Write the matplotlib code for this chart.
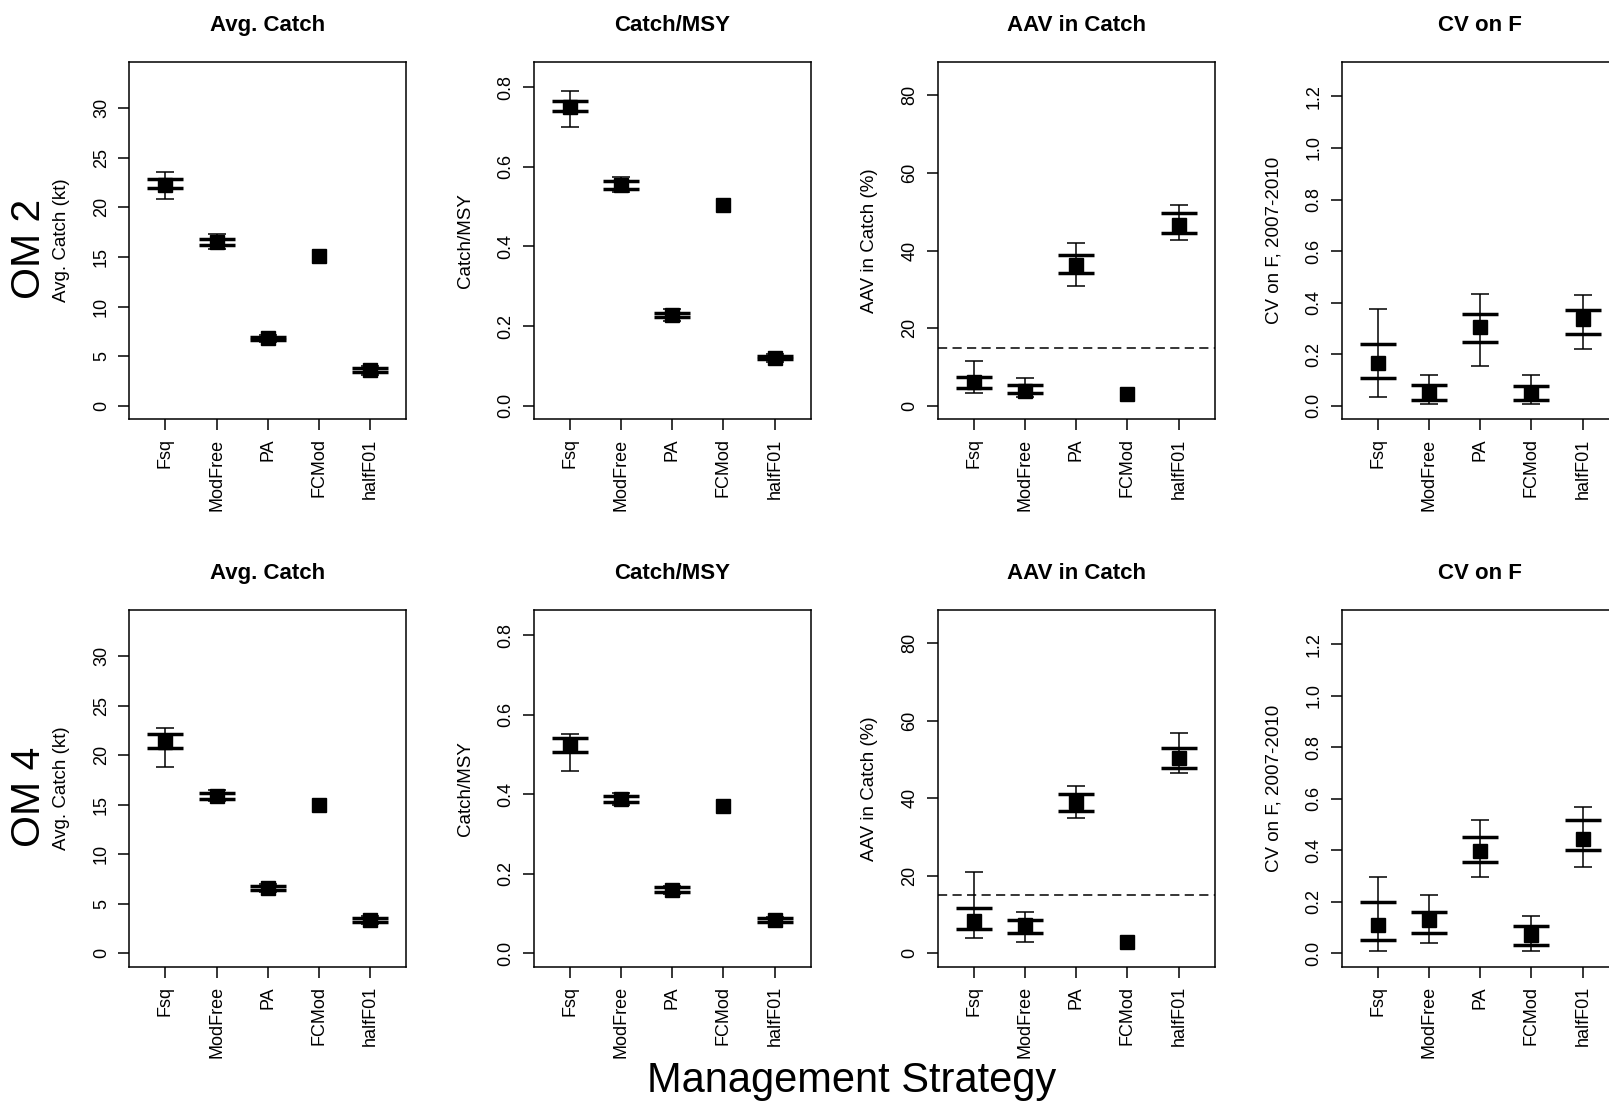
import numpy as np
import matplotlib.pyplot as plt

plt.rcParams["font.family"] = ["Liberation Sans", "DejaVu Sans"]

nan = np.nan
strategies = ["Fsq", "ModFree", "PA", "FCMod", "halfF01"]

# OM 2 -- median, inner band (thick bars), outer band (whiskers)
om2_catch_med = [22.3, 16.5, 6.8, 15.1, 3.6]
om2_catch_in_lo = [22.0, 16.2, 6.65, nan, 3.4]
om2_catch_in_hi = [22.9, 16.8, 6.95, nan, 3.8]
om2_catch_out_lo = [20.8, 15.8, 6.45, nan, 3.1]
om2_catch_out_hi = [23.6, 17.3, 7.15, nan, 4.0]

om2_msy_med = [0.750, 0.555, 0.228, 0.503, 0.121]
om2_msy_in_lo = [0.740, 0.545, 0.222, nan, 0.117]
om2_msy_in_hi = [0.765, 0.565, 0.234, nan, 0.125]
om2_msy_out_lo = [0.701, 0.538, 0.214, nan, 0.111]
om2_msy_out_hi = [0.791, 0.575, 0.243, nan, 0.131]

om2_aav_med = [6.0, 3.8, 36.2, 3.0, 46.6]
om2_aav_in_lo = [4.5, 3.2, 34.3, nan, 44.5]
om2_aav_in_hi = [7.35, 5.4, 38.9, nan, 49.6]
om2_aav_out_lo = [3.2, 2.3, 30.9, nan, 42.8]
om2_aav_out_hi = [11.6, 7.2, 41.9, nan, 51.8]

om2_cv_med = [0.165, 0.051, 0.305, 0.051, 0.337]
om2_cv_in_lo = [0.108, 0.021, 0.248, 0.021, 0.277]
om2_cv_in_hi = [0.241, 0.081, 0.357, 0.075, 0.370]
om2_cv_out_lo = [0.035, 0.008, 0.155, 0.008, 0.221]
om2_cv_out_hi = [0.377, 0.121, 0.434, 0.121, 0.430]

# OM 4
om4_catch_med = [21.3, 15.9, 6.6, 15.0, 3.4]
om4_catch_in_lo = [20.7, 15.6, 6.4, nan, 3.2]
om4_catch_in_hi = [22.1, 16.2, 6.8, nan, 3.6]
om4_catch_out_lo = [18.8, 15.4, 6.2, nan, 3.0]
om4_catch_out_hi = [22.7, 16.5, 7.0, nan, 3.8]

om4_msy_med = [0.523, 0.387, 0.159, 0.370, 0.083]
om4_msy_in_lo = [0.506, 0.380, 0.155, nan, 0.078]
om4_msy_in_hi = [0.541, 0.396, 0.166, nan, 0.088]
om4_msy_out_lo = [0.459, 0.372, 0.150, nan, 0.075]
om4_msy_out_hi = [0.552, 0.402, 0.170, nan, 0.092]

om4_aav_med = [8.4, 7.2, 39.1, 2.8, 50.3]
om4_aav_in_lo = [6.3, 5.3, 36.6, nan, 47.8]
om4_aav_in_hi = [11.6, 8.6, 41.2, nan, 52.9]
om4_aav_out_lo = [4.0, 3.0, 34.9, nan, 46.5]
om4_aav_out_hi = [21.1, 10.7, 43.2, nan, 56.8]

om4_cv_med = [0.111, 0.131, 0.396, 0.073, 0.443]
om4_cv_in_lo = [0.052, 0.080, 0.355, 0.032, 0.403]
om4_cv_in_hi = [0.201, 0.160, 0.450, 0.106, 0.517]
om4_cv_out_lo = [0.007, 0.039, 0.295, 0.007, 0.337]
om4_cv_out_hi = [0.295, 0.226, 0.517, 0.146, 0.570]

titles = ["Avg. Catch", "Catch/MSY", "AAV in Catch", "CV on F"]
ylabels = ["Avg. Catch (kt)", "Catch/MSY", "AAV in Catch (%)", "CV on F, 2007-2010"]
ymax = [33.33, 0.83, 85.2, 1.282]
yticks = [[0, 5, 10, 15, 20, 25, 30],
          [0.0, 0.2, 0.4, 0.6, 0.8],
          [0, 20, 40, 60, 80],
          [0.0, 0.2, 0.4, 0.6, 0.8, 1.0, 1.2]]
ytick_labels = [["0", "5", "10", "15", "20", "25", "30"],
                ["0.0", "0.2", "0.4", "0.6", "0.8"],
                ["0", "20", "40", "60", "80"],
                ["0.0", "0.2", "0.4", "0.6", "0.8", "1.0", "1.2"]]
aav_target = 15

rows = [
    ("OM 2", [
        (om2_catch_med, om2_catch_in_lo, om2_catch_in_hi, om2_catch_out_lo, om2_catch_out_hi),
        (om2_msy_med, om2_msy_in_lo, om2_msy_in_hi, om2_msy_out_lo, om2_msy_out_hi),
        (om2_aav_med, om2_aav_in_lo, om2_aav_in_hi, om2_aav_out_lo, om2_aav_out_hi),
        (om2_cv_med, om2_cv_in_lo, om2_cv_in_hi, om2_cv_out_lo, om2_cv_out_hi),
    ]),
    ("OM 4", [
        (om4_catch_med, om4_catch_in_lo, om4_catch_in_hi, om4_catch_out_lo, om4_catch_out_hi),
        (om4_msy_med, om4_msy_in_lo, om4_msy_in_hi, om4_msy_out_lo, om4_msy_out_hi),
        (om4_aav_med, om4_aav_in_lo, om4_aav_in_hi, om4_aav_out_lo, om4_aav_out_hi),
        (om4_cv_med, om4_cv_in_lo, om4_cv_in_hi, om4_cv_out_lo, om4_cv_out_hi),
    ]),
]

# layout in pixels of the 1609x1101 canvas
W, H = 1609, 1101
col_left = [129.3, 533.7, 937.7, 1341.7]
col_width = 277
row_top = [62, 610]
row_bottom = [419, 966.5]
om_label_y = [249, 797]

fig = plt.figure(figsize=(W / 100, H / 100), dpi=100)

x = np.arange(1, len(strategies) + 1)
for r, (om_name, panels) in enumerate(rows):
    for c, (med, in_lo, in_hi, out_lo, out_hi) in enumerate(panels):
        ax = fig.add_axes([col_left[c] / W, 1 - row_bottom[r] / H,
                           col_width / W, (row_bottom[r] - row_top[r]) / H])
        med = np.array(med)
        out_lo = np.array(out_lo)
        out_hi = np.array(out_hi)

        ax.errorbar(x, med, yerr=[med - out_lo, out_hi - med], fmt="none",
                    ecolor="black", elinewidth=1.1, capsize=6.3, capthick=1.1)
        ax.plot(x, in_lo, ls="none", marker="_", ms=26, mew=2.5, color="black")
        ax.plot(x, in_hi, ls="none", marker="_", ms=26, mew=2.5, color="black")
        ax.plot(x, med, ls="none", marker="s", ms=10, mew=1, color="black")

        if c == 2:
            ax.axhline(aav_target, color="black", lw=1.1, ls=(0, (6, 3.5)))

        ax.set_xlim(0.3, 5.7)
        ax.set_ylim(-0.04 * ymax[c], 1.04 * ymax[c])
        ax.set_xticks(x, strategies, rotation=90)
        ax.set_yticks(yticks[c], ytick_labels[c], rotation=90, va="center")
        ax.tick_params(direction="out", length=8, width=1.1, labelsize=13, pad=6)
        for spine in ax.spines.values():
            spine.set_linewidth(1.1)

        ax.set_title(titles[c], fontsize=16, fontweight="bold", pad=22)
        ax.text(-0.245, 0.5, ylabels[c], transform=ax.transAxes, rotation=90,
                ha="center", va="center", fontsize=13.5)

    fig.text(29 / W, 1 - om_label_y[r] / H, om_name, rotation=90,
             ha="center", va="center", fontsize=29.5)

fig.text(852 / W, 1 - 1092 / H, "Management Strategy", ha="center",
         va="baseline", fontsize=30)

fig.savefig("out.png", dpi=100)
